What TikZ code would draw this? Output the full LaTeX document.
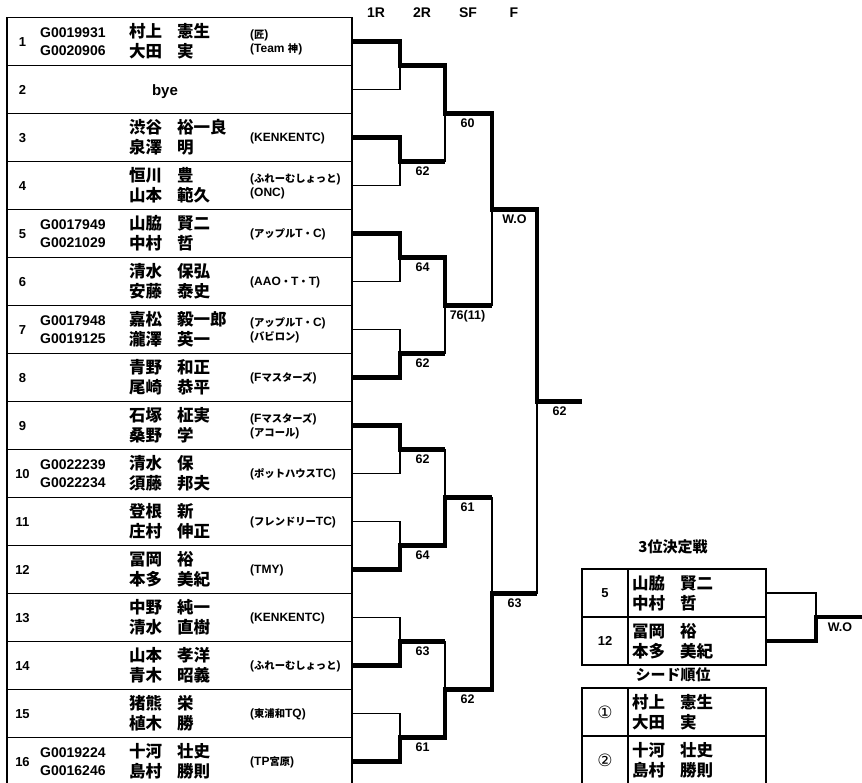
\documentclass[tikz,border=0pt]{standalone}
\usepackage{fontspec}
\setmainfont{Liberation Sans}
\newfontfamily\cjk{Noto Sans CJK JP}
\newfontfamily\djv{DejaVu Sans}
\newcommand\J[1]{{\cjk\fontsize{10.3}{11}\selectfont #1}}
\tikzset{
  gridline/.style={line width=1.4pt},
  lose/.style={line width=1.5pt},
  win/.style={line width=4.3pt},
  numt/.style={anchor=base, inner sep=0pt, font=\fontsize{13}{13}\selectfont\bfseries},
  idt/.style={anchor=base west, inner sep=0pt, font=\fontsize{14}{14}\selectfont\bfseries},
  namet/.style={anchor=base west, inner sep=0pt, font=\fontsize{16.5}{16.5}\selectfont\cjk\bfseries},
  clubt/.style={anchor=base west, inner sep=0pt, font=\fontsize{12}{12}\selectfont\bfseries},
  scoret/.style={anchor=base, inner sep=0pt, font=\fontsize{12.5}{12.5}\selectfont\bfseries},
  headt/.style={anchor=base, inner sep=0pt, font=\fontsize{14}{14}\selectfont\bfseries},
  titlet/.style={anchor=base, inner sep=0pt, font=\fontsize{15}{15}\selectfont\cjk\bfseries},
}
\newcommand\prow[1]{\pgfmathsetmacro\yc{41.5+48*(#1-1)}%
  \node[numt] (no#1) at (22.5,\yc+4.7) {#1};}
\newcommand\ids[3]{\pgfmathsetmacro\yc{41.5+48*(#1-1)}%
  \node[idt] (ida#1) at (40,\yc-4) {#2};
  \node[idt] (idb#1) at (40,\yc+14) {#3};}
\newcommand\names[5]{\pgfmathsetmacro\yc{41.5+48*(#1-1)}%
  \node[namet] (sa#1) at (129,\yc-4) {#2};
  \node[namet] (ga#1) at (177,\yc-4) {#3};
  \node[namet] (sb#1) at (129,\yc+16) {#4};
  \node[namet] (gb#1) at (177,\yc+16) {#5};}
\newcommand\clubone[2]{\pgfmathsetmacro\yc{41.5+48*(#1-1)}%
  \node[clubt] (ca#1) at (250,\yc+4) {#2};}
\newcommand\clubtwo[3]{\pgfmathsetmacro\yc{41.5+48*(#1-1)}%
  \node[clubt] (ca#1) at (250,\yc-3) {#2};
  \node[clubt] (cb#1) at (250,\yc+11) {#3};}
\newcommand\match[4]{%
  \draw[lose] (#2) -| (#3);
  \draw[win] (#1) -| (#3) -- (#4);}
\newcommand\score[2]{\node[scoret] at ([xshift=22.5pt,yshift=-14pt]#1) {#2};}
\begin{document}
\begin{tikzpicture}[x=1pt,y=-1pt]
\useasboundingbox (0,0) rectangle (862,782);
\fill[white] (0,0) rectangle (862,782);
% headers
\node[headt] (h1) at (376,17) {1R};
\node[headt] (h2) at (422,17) {2R};
\node[headt] (h3) at (468,17) {SF};
\node[headt] (h4) at (514,17) {F};
% table
\draw[gridline] (7,17.5) rectangle (352,785.5);
\foreach \k in {1,...,15} \draw[gridline] (7,17.5+48*\k) -- (352,17.5+48*\k);
\foreach \k in {1,...,16} {\prow{\k}}
\ids{1}{G0019931}{G0020906}
\ids{5}{G0017949}{G0021029}
\ids{7}{G0017948}{G0019125}
\ids{10}{G0022239}{G0022234}
\ids{16}{G0019224}{G0016246}
\node[anchor=base, inner sep=0pt, font=\fontsize{15}{15}\selectfont\bfseries] (bye) at (165,95) {bye};
\names{1}{村上}{憲生}{大田}{実}
\names{3}{渋谷}{裕一良}{泉澤}{明}
\names{4}{恒川}{豊}{山本}{範久}
\names{5}{山脇}{賢二}{中村}{哲}
\names{6}{清水}{保弘}{安藤}{泰史}
\names{7}{嘉松}{毅一郎}{瀧澤}{英一}
\names{8}{青野}{和正}{尾崎}{恭平}
\names{9}{石塚}{柾実}{桑野}{学}
\names{10}{清水}{保}{須藤}{邦夫}
\names{11}{登根}{新}{庄村}{伸正}
\names{12}{冨岡}{裕}{本多}{美紀}
\names{13}{中野}{純一}{清水}{直樹}
\names{14}{山本}{孝洋}{青木}{昭義}
\names{15}{猪熊}{栄}{植木}{勝}
\names{16}{十河}{壮史}{島村}{勝則}
\clubtwo{1}{(\J{匠})}{(Team \J{神})}
\clubone{3}{(KENKENTC)}
\clubtwo{4}{(\J{ふれーむしょっと})}{(ONC)}
\clubone{5}{(\J{アップル}T\J{・}C)}
\clubone{6}{(AAO\J{・}T\J{・}T)}
\clubtwo{7}{(\J{アップル}T\J{・}C)}{(\J{バビロン})}
\clubone{8}{(F\J{マスターズ})}
\clubtwo{9}{(F\J{マスターズ})}{(\J{アコール})}
\clubone{10}{(\J{ポットハウス}TC)}
\clubone{11}{(\J{フレンドリー}TC)}
\clubone{12}{(TMY)}
\clubone{13}{(KENKENTC)}
\clubone{14}{(\J{ふれーむしょっと})}
\clubone{15}{(\J{東浦和}TQ)}
\clubone{16}{(TP\J{宮原})}
% bracket coordinates
\foreach \k in {1,...,16} \coordinate (p\k) at (352,41.5+48*\k-48);
\foreach \m in {1,...,8} \coordinate (a\m) at (400,65.5+96*\m-96);
\foreach \m in {1,...,4} \coordinate (b\m) at (445,113.5+192*\m-192);
\coordinate (s1) at (492,209.5);
\coordinate (s2) at (492,593.5);
\coordinate (fin) at (537,401.5);
\coordinate (champ) at (582,401.5);
% 1R
\match{p1}{p2}{a1}{a1 -| b1}
\match{p3}{p4}{a2}{a2 -| b1}
\match{p5}{p6}{a3}{a3 -| b1}
\match{p8}{p7}{a4}{a4 -| b1}
\match{p9}{p10}{a5}{a5 -| b1}
\match{p12}{p11}{a6}{a6 -| b1}
\match{p14}{p13}{a7}{a7 -| b1}
\match{p16}{p15}{a8}{a8 -| b1}
% 2R
\match{a1}{a2}{b1}{b1 -| s1}
\match{a3}{a4}{b2}{b2 -| s1}
\match{a6}{a5}{b3}{b3 -| s1}
\match{a8}{a7}{b4}{b4 -| s1}
% SF
\match{b1}{b2}{s1}{s1 -| fin}
\match{b4}{b3}{s2}{s2 -| fin}
% F
\match{s1}{s2}{fin}{champ}
% scores
\score{a2}{62}\score{a3}{64}\score{a4}{62}\score{a5}{62}
\score{a6}{64}\score{a7}{63}\score{a8}{61}
\score{b1}{60}\score{b2}{76(11)}\score{b3}{61}\score{b4}{62}
\score{s1}{W.O}\score{s2}{63}
\score{fin}{62}
% third place
\node[titlet] (t3) at (673,552) {3位決定戦};
\draw[gridline] (582,569) rectangle (766,665);
\draw[gridline] (582,617) -- (766,617);
\draw[gridline] (628,569) -- (628,665);
\node[numt] (tn1) at (605,597.7) {5};
\node[numt] (tn2) at (605,645.7) {12};
\node[namet] (tsa1) at (632,589) {山脇};
\node[namet] (tga1) at (680,589) {賢二};
\node[namet] (tsb1) at (632,609) {中村};
\node[namet] (tgb1) at (680,609) {哲};
\node[namet] (tsa2) at (632,637) {冨岡};
\node[namet] (tga2) at (680,637) {裕};
\node[namet] (tsb2) at (632,657) {本多};
\node[namet] (tgb2) at (680,657) {美紀};
\coordinate (q1) at (766,593);
\coordinate (q2) at (766,641);
\coordinate (qj) at (816,617);
\coordinate (qo) at (862,617);
\match{q2}{q1}{qj}{qo}
\node[scoret] (tw) at (840,631) {W.O};
% seeds
\node[titlet] (t4) at (673,680) {シード順位};
\draw[gridline] (582,688) rectangle (766,785);
\draw[gridline] (582,736) -- (766,736);
\draw[gridline] (628,688) -- (628,785);
\node[anchor=base, inner sep=0pt, font=\fontsize{17}{17}\selectfont\djv] (sd1) at (605,718) {①};
\node[anchor=base, inner sep=0pt, font=\fontsize{17}{17}\selectfont\djv] (sd2) at (605,766) {②};
\node[namet] (ssa1) at (632,708) {村上};
\node[namet] (sga1) at (680,708) {憲生};
\node[namet] (ssb1) at (632,728) {大田};
\node[namet] (sgb1) at (680,728) {実};
\node[namet] (ssa2) at (632,756) {十河};
\node[namet] (sga2) at (680,756) {壮史};
\node[namet] (ssb2) at (632,776) {島村};
\node[namet] (sgb2) at (680,776) {勝則};
\end{tikzpicture}
\end{document}
